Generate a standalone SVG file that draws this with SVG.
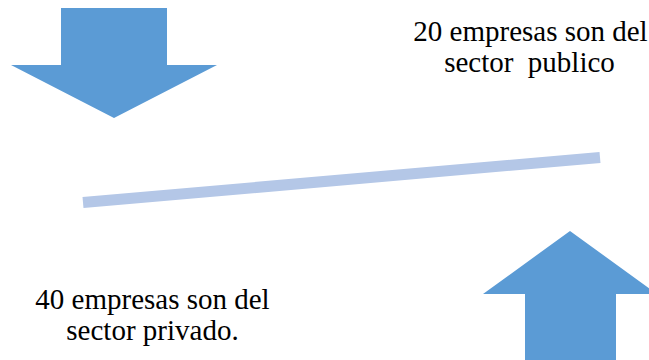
<svg xmlns="http://www.w3.org/2000/svg" width="649" height="360" viewBox="0 0 649 360">
<style>
.arrow{fill:#5B9BD5}
</style>
<rect width="649" height="360" fill="#fff"/>
<g id="arrow-down"><polygon class="arrow" points="61,8 167,8 167,65 217,65 114,118 11,65 61,65"/></g>
<g id="arrow-up"><polygon class="arrow" points="570,231 657,294 616,294 616,360 525,360 525,294 483,294"/></g>
<g id="connectors"><line x1="83" y1="202.5" x2="600" y2="157.5" stroke="#B4C7E7" stroke-width="11"/></g>
<g id="text-publico" font-family="Liberation Serif" font-size="29" fill="#000" text-anchor="middle"><text x="530.5" y="41">20 empresas son del</text><text x="529.5" y="72" xml:space="preserve">sector  publico</text></g>
<g id="text-privado" font-family="Liberation Serif" font-size="29" fill="#000" text-anchor="middle"><text x="152.5" y="309">40 empresas son del</text><text x="152.5" y="340">sector privado.</text></g>
</svg>
